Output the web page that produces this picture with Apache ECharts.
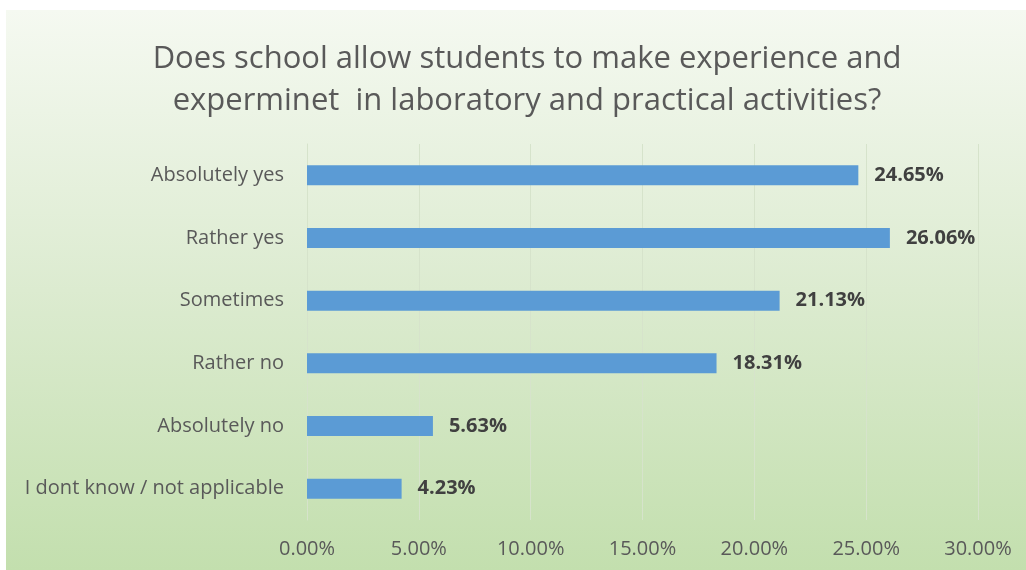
<!DOCTYPE html>
<html><head><meta charset="utf-8">
<script src="https://cdn.jsdelivr.net/npm/echarts@6/dist/echarts.min.js"></script>
<style>html,body{margin:0;padding:0;background:#fff;}#c{width:1026px;height:570px;}</style>
</head><body><div id="c"></div>
<script>
const categories = ["Absolutely yes","Rather yes","Sometimes","Rather no","Absolutely no","I dont know / not applicable"];
const values = [24.65, 26.06, 21.13, 18.31, 5.63, 4.23];
const titleLines = ["Does school allow students to make experience and", "experminet  in laboratory and practical activities?"];

const chart = echarts.init(document.getElementById('c'), null, {renderer:'canvas'});
chart.setOption({
  backgroundColor: '#ffffff',
  animation: false,
  graphic: [{
    type: 'rect', z: -10, silent: true,
    shape: {x: 6, y: 10, width: 1020, height: 560},
    style: {fill: new echarts.graphic.LinearGradient(0,0,0,1,[
      {offset:0, color:'#f5f9f1'},
      {offset:0.5, color:'#dcebd0'},
      {offset:1, color:'#c3dfae'}
    ])}
  }],
  title: {
    text: titleLines.join('\n'),
    left: 522, top: 33, textAlign: 'center',
    textStyle: {fontFamily:'Open Sans', fontSize: 31, fontWeight:'normal', color:'#595959', lineHeight: 42, align: 'center'}
  },
  grid: {left: 307, right: 48, top: 144, bottom: 50, containLabel: false},
  xAxis: {
    type: 'value', min: 0, max: 30, interval: 5,
    axisLine: {show:false}, axisTick: {show:false},
    splitLine: {lineStyle:{color:'#d6e3cb', width:1}},
    axisLabel: {formatter: v => v.toFixed(2)+'%', fontFamily:'Open Sans', fontSize:20, color:'#595959', margin: 19}
  },
  yAxis: {
    type: 'category', data: categories, inverse: true,
    axisLine: {show:true, lineStyle:{color:'#d6e3cb'}}, axisTick: {show:false},
    axisLabel: {fontFamily:'Open Sans', fontSize:20, color:'#595959', margin: 23}
  },
  series: [{
    type: 'bar', data: values, barWidth: 20,
    itemStyle: {color:'#5b9bd5'},
    label: {show:true, position:'right', distance: 16, formatter: p => p.value.toFixed(2)+'%',
      fontFamily:'Open Sans', fontSize:20, fontWeight:'bold', color:'#404040'}
  }]
});
</script></body></html>
